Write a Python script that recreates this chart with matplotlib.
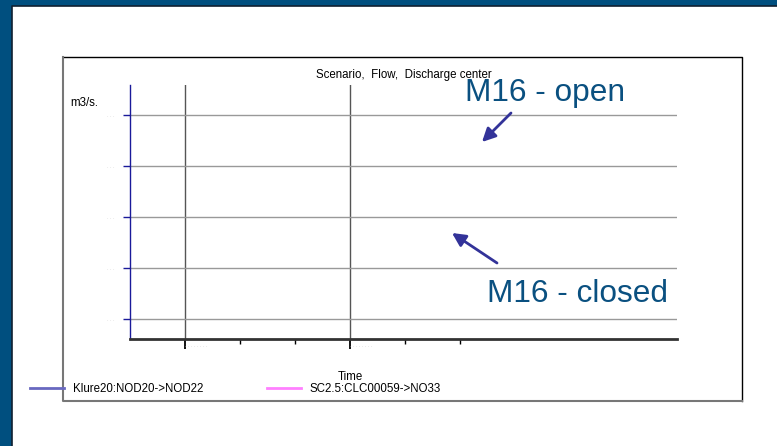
import matplotlib
matplotlib.use("Agg")
import matplotlib.pyplot as plt
from matplotlib.lines import Line2D
from matplotlib.patches import Rectangle

plt.rcParams['font.family'] = ['Liberation Sans', 'DejaVu Sans']

# chart content
title = 'Scenario,  Flow,  Discharge center'
y_unit = 'm3/s.'
x_label = 'Time'
series_names = ['Klure20:NOD20->NOD22', 'SC2.5:CLC00059->NO33']
series_colors = ['#6868c0', '#ff80ff']
series_x = [[], []]      # no values visible in the chart
series_y = [[], []]
y_ticks = [1, 2, 3, 4, 5]
x_major = [1, 4]
x_minor = [2, 3, 5, 6]
notes = ['M16 - open', 'M16 - closed']

W, H = 777, 446
def fx(x):
    return x / W
def fy(y):
    return 1 - y / H

fig = plt.figure(figsize=(7.77, 4.46), dpi=100)
fig.patch.set_facecolor('#004f7f')

# white slide area and chart frame
fig.patches.append(Rectangle((fx(12), 0), 1 - fx(12), fy(6), transform=fig.transFigure,
                             facecolor='white', edgecolor='none', zorder=-3))
fig.lines.append(Line2D([fx(12), fx(12), 1], [0, fy(6), fy(6)], transform=fig.transFigure,
                        color='#102030', lw=1.2, zorder=-2))
fig.lines.append(Line2D([fx(63), fx(742), fx(742)], [fy(57), fy(57), fy(401)],
                        transform=fig.transFigure, color='black', lw=1, zorder=-1))
fig.lines.append(Line2D([fx(63), fx(63), fx(742)], [fy(57), fy(401), fy(401)],
                        transform=fig.transFigure, color='#777777', lw=1.5, zorder=-1))

ax = fig.add_axes([fx(130), fy(339), fx(677) - fx(130), fy(85) - fy(339)])
ax.set_facecolor('white')
for name, col, xs, ys in zip(series_names, series_colors, series_x, series_y):
    ax.plot(xs, ys, color=col, lw=2, label=name)

ax.set_xlim(0, 547 / 55)
ax.set_ylim(1 - 20 / 51, 5 + 30 / 51)

ax.set_yticks(y_ticks)
ax.set_yticklabels(['. . .'] * len(y_ticks), fontsize=4, color='#c8c8c8')
ax.tick_params(axis='y', length=5, color='#1a1a9a', width=1, pad=6)
ax.yaxis.grid(True, color='#999999', lw=1)

ax.set_xticks(x_major)
ax.set_xticks(x_minor, minor=True)
ax.set_xticklabels(['. . . . . . . .'] * len(x_major), fontsize=4, color='#c0c0c0', ha='left')
ax.tick_params(axis='x', which='major', length=7.2, width=1.3, color='black', pad=-4)
ax.tick_params(axis='x', which='minor', length=3.6, width=1, color='black')
ax.xaxis.grid(True, which='major', color='#555555', lw=1)

for s in ['top', 'right']:
    ax.spines[s].set_visible(False)
ax.spines['left'].set_color('#1a1a9a')
ax.spines['left'].set_linewidth(1)
ax.spines['bottom'].set_color('#333333')
ax.spines['bottom'].set_linewidth(2)

# texts
fs = 8.3
fig.text(fx(316), fy(78), title, fontsize=fs, va='baseline', ha='left')
fig.text(fx(70), fy(106), y_unit, fontsize=fs, va='baseline', ha='left')
fig.text(fx(350), fy(380), x_label, fontsize=fs, va='baseline', ha='center')
fig.text(fx(465), fy(101), notes[0], fontsize=22.8, color='#0a5080', va='baseline', ha='left')
fig.text(fx(487), fy(302), notes[1], fontsize=22.8, color='#0a5080', va='baseline', ha='left')

arrow = dict(arrowstyle='-|>', color='#333399', lw=2, mutation_scale=20, shrinkA=0, shrinkB=0)
ax.annotate('', xy=(482, H - 142), xytext=(511, H - 113), xycoords='figure pixels',
            textcoords='figure pixels', arrowprops=arrow, annotation_clip=False)
ax.annotate('', xy=(452, H - 233), xytext=(497, H - 263), xycoords='figure pixels',
            textcoords='figure pixels', arrowprops=arrow, annotation_clip=False)

fig.legend(handles=[Line2D([], [], color=c, lw=2) for c in series_colors], labels=series_names,
           loc='center left', bbox_to_anchor=(fx(30), fy(389)), ncol=2, frameon=False,
           fontsize=fs, handlelength=2.95, handletextpad=0.78, columnspacing=5.5,
           borderpad=0, borderaxespad=0)

fig.savefig('out.png', dpi=100, facecolor=fig.get_facecolor())
